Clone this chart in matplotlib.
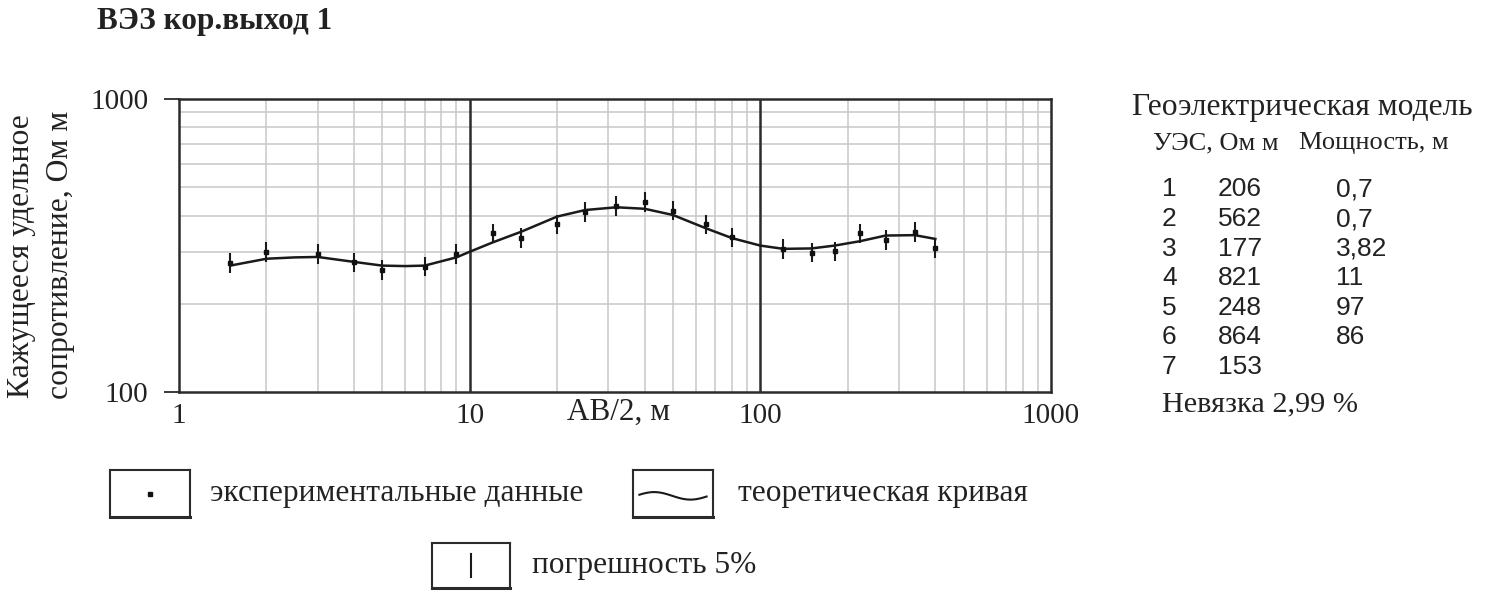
import numpy as np
import matplotlib
matplotlib.use('Agg')
import matplotlib.pyplot as plt
import matplotlib.ticker as tic

# experimental data (AB/2, m ; apparent resistivity, Ohm m)
ab2_obs=[1.5, 2, 3, 4, 5, 7, 9, 12, 15, 20, 25, 32, 40, 50, 65, 80, 120, 150, 180, 220, 270, 340, 400]
rho_obs=[276, 300, 296, 277, 261, 268, 296, 348, 335, 373, 412, 432, 446, 416, 373, 337, 307, 299, 302, 348, 330, 352, 309]
err_rel=0.08  # half length of the drawn error bar, relative

# theoretical curve
ab2_th=[1.5, 2, 2.5, 3, 4, 5, 6, 7, 9, 10, 12, 15, 20, 25, 32, 40, 50, 65, 80, 100, 120, 150, 180, 220, 270, 340, 400]
rho_th=[270, 285, 288, 289, 278, 270, 269, 270, 288, 301, 324, 352, 397, 418, 427, 422, 402, 362, 335, 316, 308, 309, 316, 327, 342, 343, 333]

# geoelectric model
layer_no=['1', '2', '3', '4', '5', '6', '7']
layer_rho=['206', '562', '177', '821', '248', '864', '153']
layer_h=['0,7', '0,7', '3,82', '11', '97', '86', '']
misfit='2,99'

W, H = 1495, 595
serif='Liberation Serif'
sans='Liberation Sans'
dark='#2b2b2b'
txt='#222222'

def fx(px):
    return px/W
def fy(py):
    return 1-py/H

fig=plt.figure(figsize=(W/100, H/100), dpi=100)
ax=fig.add_axes([fx(179), fy(392), (1051-179)/W, (392-99)/H])
ax.set_xscale('log')
ax.set_yscale('log')
ax.set_xlim(1, 1000)
ax.set_ylim(100, 1000)

ax.xaxis.set_minor_locator(tic.LogLocator(base=10, subs=range(2, 10)))
ax.yaxis.set_minor_locator(tic.LogLocator(base=10, subs=range(2, 10)))
ax.xaxis.set_minor_formatter(tic.NullFormatter())
ax.yaxis.set_minor_formatter(tic.NullFormatter())
ax.set_xticks([1, 10, 100, 1000])
ax.set_xticklabels(['1', '10', '100', '1000'])
ax.set_yticks([100, 1000])
ax.set_yticklabels(['100', '1000'])
ax.grid(which='minor', color='#c8c8c8', lw=1.1)
for v in [10, 100]:
    ax.axvline(v, color=dark, lw=1.8, zorder=2)
ax.tick_params(which='minor', length=0)
ax.tick_params(axis='y', which='major', length=11, width=1.3, color=dark, pad=11,
               labelsize=21, labelfontfamily=serif, labelcolor=txt)
ax.tick_params(axis='x', which='major', length=0, pad=8,
               labelsize=21, labelfontfamily=serif, labelcolor=txt)
for s in ax.spines.values():
    s.set_linewidth(1.8)
    s.set_color(dark)

ax.plot(ab2_th, rho_th, color='#1a1a1a', lw=1.8, zorder=3)
rho=np.array(rho_obs)
ax.vlines(ab2_obs, rho/(1+err_rel), rho*(1+err_rel), color='#1a1a1a', lw=1.5, zorder=4)
ax.plot(ab2_obs, rho_obs, 's', color='#111111', ms=3.4, zorder=5)

fig.text(fx(619), fy(412), 'АВ/2, м', family=serif, fontsize=22.5, ha='center', va='center', color=txt)
fig.text(fx(22), fy(256), 'Кажущееся удельное', family=serif, fontsize=22.8, rotation=90,
         ha='center', va='center', color=txt)
fig.text(fx(61), fy(255), 'сопротивление, Ом м', family=serif, fontsize=22.8, rotation=90,
         ha='center', va='center', color=txt)

fig.text(fx(97), fy(22), 'ВЭЗ кор.выход 1', family=serif, fontsize=22.5, weight='bold',
         ha='left', va='center', color=txt)

# model table
fig.text(fx(1302), fy(108), 'Геоэлектрическая модель', family=serif, fontsize=22.7,
         ha='center', va='center', color=txt)
fig.text(fx(1153), fy(143), 'УЭС, Ом м', family=serif, fontsize=19, ha='left', va='center', color=txt)
fig.text(fx(1299), fy(143), 'Мощность, м', family=serif, fontsize=19, ha='left', va='center', color=txt)
for i in range(len(layer_no)):
    yy=fy(189.5+29.5*i)
    fig.text(fx(1162), yy, layer_no[i], family=sans, fontsize=19, ha='left', va='center', color=txt)
    fig.text(fx(1218), yy, layer_rho[i], family=sans, fontsize=19, ha='left', va='center', color=txt)
    fig.text(fx(1336), yy, layer_h[i], family=sans, fontsize=19, ha='left', va='center', color=txt)
fig.text(fx(1162), fy(404), 'Невязка '+misfit+' %', family=serif, fontsize=21.8,
         ha='left', va='center', color=txt)

# legend
def box(x0, y0, x1, y1):
    a=fig.add_axes([fx(x0), fy(y1), (x1-x0)/W, (y1-y0)/H])
    a.set_xlim(0, 1)
    a.set_ylim(0, 1)
    a.set_xticks([])
    a.set_yticks([])
    for s in a.spines.values():
        s.set_linewidth(1.5)
        s.set_color(dark)
    a.spines['bottom'].set_linewidth(2.2)
    return a

b1=box(110, 470, 190, 517)
b1.plot([0.5], [0.5], 's', color='#111111', ms=3.4)
fig.text(fx(210), fy(494), 'экспериментальные данные', family=serif, fontsize=22.7,
         ha='left', va='center', color=txt)

b2=box(633, 470, 713, 517)
t=np.linspace(0.08, 0.92, 60)
b2.plot(t, 0.45+0.08*np.sin((t-0.08)*2*np.pi*1.1+0.3), color='#1a1a1a', lw=1.5)
fig.text(fx(738), fy(494), 'теоретическая кривая', family=serif, fontsize=22.6,
         ha='left', va='center', color=txt)

b3=box(432, 543, 510, 588)
b3.plot([0.5, 0.5], [0.25, 0.75], color='#1a1a1a', lw=1.5)
fig.text(fx(532), fy(565), 'погрешность 5%', family=serif, fontsize=22.6,
         ha='left', va='center', color=txt)

fig.savefig('out.png', dpi=100, facecolor='white')
